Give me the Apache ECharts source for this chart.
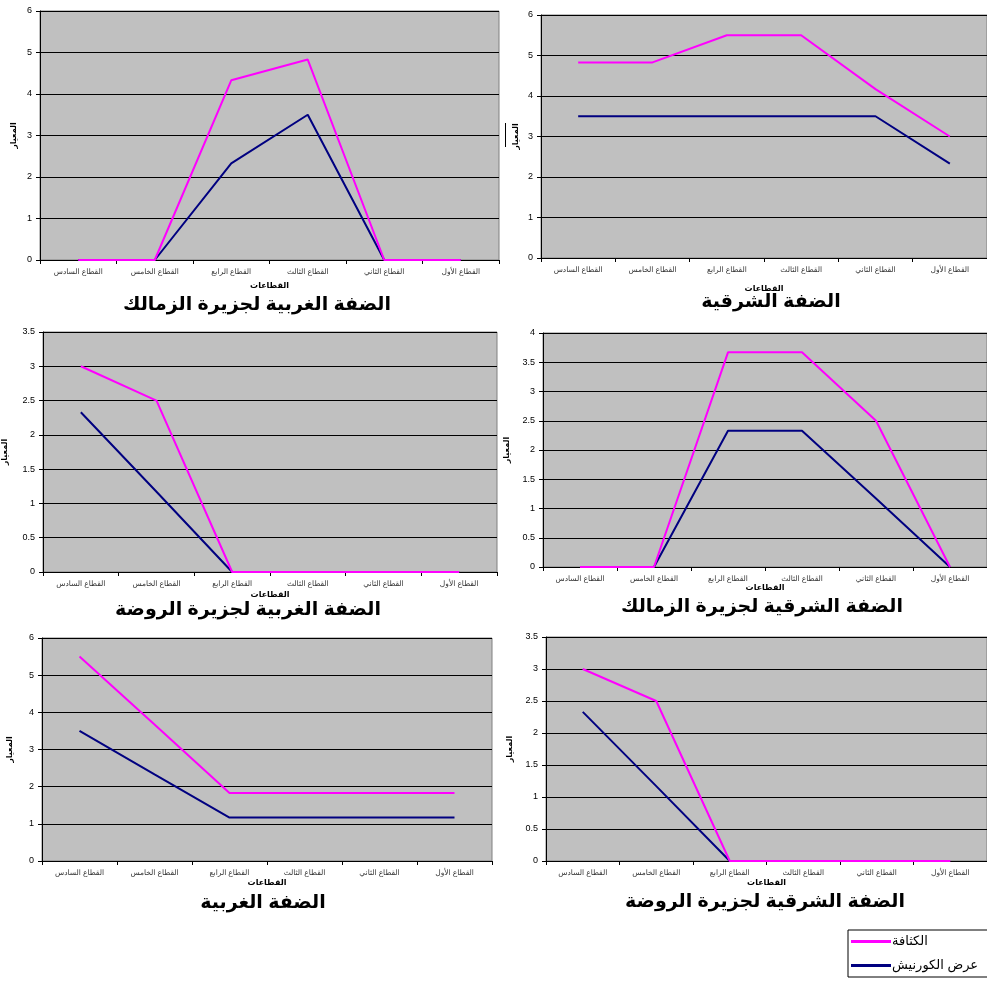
<!DOCTYPE html>
<html><head><meta charset="utf-8">
<script src="https://cdn.jsdelivr.net/npm/echarts@6/dist/echarts.min.js"></script>
<style>html,body{margin:0;padding:0;background:#fff}#c{width:987px;height:983px}</style>
</head><body><div id="c"></div>
<script>
const categories = ['القطاع السادس','القطاع الخامس','القطاع الرابع','القطاع الثالث','القطاع الثاني','القطاع الأول'];
const seriesNames = ['الكثافة','عرض الكورنيش'];
const titles = ['الضفة الغربية لجزيرة الزمالك','الضفة الشرقية','الضفة الغربية لجزيرة الروضة','الضفة الشرقية لجزيرة الزمالك','الضفة الغربية','الضفة الشرقية لجزيرة الروضة'];
const density = [
  [0,0,4.33,4.83,0,0],
  [4.83,4.83,5.5,5.5,4.17,3],
  [3,2.5,0,0,0,0],
  [0,0,3.67,3.67,2.5,0],
  [5.5,3.67,1.83,1.83,1.83,1.83],
  [3,2.5,0,0,0,0]
];
const corniche = [
  [0,0,2.33,3.5,0,0],
  [3.5,3.5,3.5,3.5,3.5,2.33],
  [2.33,1.17,0,0,0,0],
  [0,0,2.33,2.33,1.17,0],
  [3.5,2.33,1.17,1.17,1.17,1.17],
  [2.33,1.17,0,0,null,null]
];
const yMax = [6,6,3.5,4,6,3.5];
const yStep = [1,1,0.5,0.5,1,0.5];
const xAxisName = 'القطاعات';
const yAxisName = 'المعيار';

// layout: plot areas
const grids = [
  {left:40, top:11, width:459, height:249},
  {left:541, top:15, width:446, height:243},
  {left:40, top:332, width:457, height:240},
  {left:543, top:333, width:444, height:234},
  {left:42, top:638, width:450, height:223},
  {left:546, top:637, width:441, height:224}
];
const xNameGap = [22,27,19,17,18,18];
const yNameGap = [22,21,34,32,28,32];
const titlePos = [[257,305],[771,302],[248,610],[762,607],[263,903],[765,902]];

const FONT = '"Liberation Sans", "DejaVu Sans", Arial, sans-serif';
const chart = echarts.init(document.getElementById('c'), null, {renderer:'canvas'});
const option = {
  backgroundColor:'#fff',
  animation:false,
  textStyle:{fontFamily:FONT},
  grid: grids.map(g => Object.assign({show:true, backgroundColor:'#c0c0c0', borderColor:'#808080', borderWidth:1, containLabel:false}, g)),
  xAxis: grids.map((g,i) => ({
    type:'category', gridIndex:i, data:categories, boundaryGap:true,
    name:xAxisName, nameLocation:'middle', nameGap:xNameGap[i],
    nameTextStyle:{fontSize:8, fontWeight:'bold', color:'#000', fontFamily:FONT},
    axisLine:{lineStyle:{color:'#000', width:1}},
    axisTick:{show:true, alignWithLabel:false, length:4, lineStyle:{color:'#000'}},
    axisLabel:{fontSize:7.5, color:'#333', margin:8, interval:0, fontFamily:FONT},
    splitLine:{show:false}
  })),
  yAxis: grids.map((g,i) => ({
    type:'value', gridIndex:i, min:0, max:yMax[i], interval:yStep[i],
    name:yAxisName, nameLocation:'middle', nameGap:yNameGap[i], nameRotate:90,
    nameTextStyle:{fontSize:8, fontWeight:'bold', color:'#000', fontFamily:FONT},
    axisLine:{show:true, lineStyle:{color:'#000', width:1}},
    axisTick:{show:true, length:4, lineStyle:{color:'#000'}},
    axisLabel:{fontSize:9, color:'#000', margin:8, fontFamily:FONT},
    splitLine:{show:true, lineStyle:{color:'#000', width:1}}
  })),
  legend:{
    orient:'vertical', left:848, top:930, width:139,
    itemWidth:40, itemHeight:3, itemGap:11,
    icon:'rect',
    data:seriesNames,
    textStyle:{fontSize:13, color:'#000', fontFamily:FONT, padding:[0,0,0,-4]},
    borderColor:'#000', borderWidth:1, padding:[5,12,5,3],
    selectedMode:false
  },
  series: [],
  graphic: titles.map((t,i) => ({
    type:'text', x:titlePos[i][0], y:titlePos[i][1], silent:true,
    style:{text:t, fill:'#000', font:'bold 19px '+FONT, textAlign:'center', textVerticalAlign:'middle'}
  })).concat([{type:'line', shape:{x1:505.5,y1:123,x2:505.5,y2:147}, style:{stroke:'#000', lineWidth:1}, silent:true}])
};
for (let i=0;i<6;i++){
  option.series.push({
    name:seriesNames[0], type:'line', xAxisIndex:i, yAxisIndex:i, data:density[i],
    showSymbol:false, symbol:'none', lineStyle:{color:'#ff00ff', width:2}, itemStyle:{color:'#ff00ff'}, z:3
  });
  option.series.push({
    name:seriesNames[1], type:'line', xAxisIndex:i, yAxisIndex:i, data:corniche[i],
    showSymbol:false, symbol:'none', lineStyle:{color:'#000080', width:2}, itemStyle:{color:'#000080'}, z:2
  });
}
chart.setOption(option);
</script></body></html>
